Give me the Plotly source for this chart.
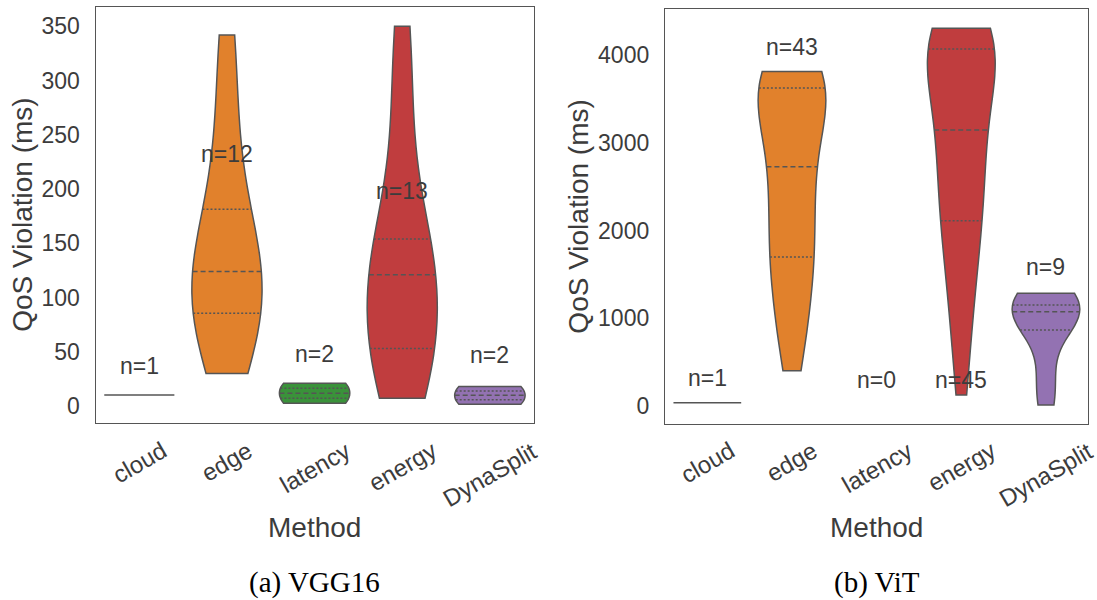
import numpy as np
import plotly.graph_objects as go

# ---------------- data ----------------
methods = ["cloud", "edge", "latency", "energy", "DynaSplit"]
colors = ["#3274a1", "#e1812c", "#3a923a", "#c03d3e", "#9372b2"]

# VGG16 QoS violation samples (ms)
vgg_cloud = [10]
vgg_edge = [30, 55, 78, 88, 100, 115, 133, 150, 170, 215, 275, 342]
vgg_latency = [2.5, 21]
vgg_energy = [7, 25, 40, 53, 75, 95, 121, 130, 140, 154, 215, 285, 350]
vgg_dynasplit = [1.5, 18]

# ViT QoS violation samples (ms)
vit_cloud = [38]
vit_edge = [403, 520, 700, 850, 1000, 1120, 1250, 1380, 1480, 1580, 1660,
            1736,
            1820, 1920, 2020, 2120, 2220, 2330, 2440, 2550, 2650,
            2727,
            2820, 2920, 3020, 3120, 3220, 3320, 3420, 3500, 3560,
            3600, 3648,
            3670, 3690, 3705, 3720, 3735, 3750, 3765, 3780, 3795, 3810]
vit_latency = []
vit_energy = [125, 420, 700, 950, 1150, 1320, 1480, 1620, 1760, 1900, 2010,
              2112,
              2200, 2300, 2400, 2500, 2600, 2700, 2800, 2900, 2990, 3070,
              3145,
              3250, 3350, 3450, 3550, 3650, 3750, 3850, 3930, 3990, 4030,
              4068,
              4100, 4130, 4150, 4170, 4190, 4210, 4230, 4250, 4270, 4290, 4304]
vit_dynasplit = [11, 350, 866, 990, 1075, 1115, 1151, 1225, 1284]

vgg_series = [vgg_cloud, vgg_edge, vgg_latency, vgg_energy, vgg_dynasplit]
vit_series = [vit_cloud, vit_edge, vit_latency, vit_energy, vit_dynasplit]

# "n=" label heights (ms)
vgg_label_y = [37, 232, 48, 198, 47]
vit_label_y = [315, 4095, 296, 296, 1588]

vgg_ticks = [0, 50, 100, 150, 200, 250, 300, 350]
vit_ticks = [0, 1000, 2000, 3000, 4000]

captions = ["(a) VGG16", "(b) ViT"]

# ---------------- style ----------------
W, H = 1097, 600
TXT = "#3c3c3c"
EDGE = "#555555"
FONT = "Liberation Sans, Arial, sans-serif"
VW = 0.8


def kde(vals, pts, bw):
    v = np.asarray(vals, float)[:, None]
    return np.exp(-0.5 * ((np.asarray(pts, float)[None, :] - v) / bw) ** 2).sum(0)


fig = go.Figure()

panels = [
    dict(series=vgg_series, labels=vgg_label_y, xa="x", ya="y", tag="a"),
    dict(series=vit_series, labels=vit_label_y, xa="x2", ya="y2", tag="b"),
]

annotations = []
for p in panels:
    for i, vals in enumerate(p["series"]):
        n = len(vals)
        if n == 1:
            fig.add_trace(go.Box(
                x=[i], y=vals, width=VW, boxpoints=False,
                line=dict(color=EDGE, width=1.5), fillcolor="rgba(0,0,0,0)",
                xaxis=p["xa"], yaxis=p["ya"], showlegend=False, hoverinfo="skip"))
        elif n >= 2:
            arr = np.asarray(vals, float)
            bw = arr.std(ddof=1) * n ** (-0.2)
            lo, hi = arr.min(), arr.max()
            steps = int(np.ceil((hi - lo) / (bw / 3)))
            grid = np.linspace(lo, hi, steps + 1)
            dmax = kde(arr, grid, bw).max()
            fig.add_trace(go.Violin(
                x=[i] * n, y=vals, width=VW, bandwidth=bw, spanmode="hard",
                scalemode="width", scalegroup=f"{p['tag']}{i}",
                points=False, box_visible=False, meanline_visible=False,
                fillcolor=colors[i], opacity=1,
                line=dict(color=EDGE, width=1.5),
                xaxis=p["xa"], yaxis=p["ya"], showlegend=False, hoverinfo="skip"))
            qs = np.percentile(arr, [25, 50, 75])
            for q, dash in zip(qs, ["2px,2px", "5px,3px", "2px,2px"]):
                hw = VW / 2 * kde(arr, [q], bw)[0] / dmax
                fig.add_trace(go.Scatter(
                    x=[i - hw, i + hw], y=[q, q], mode="lines",
                    line=dict(color=EDGE, width=1.5, dash=dash),
                    xaxis=p["xa"], yaxis=p["ya"], showlegend=False, hoverinfo="skip"))
        annotations.append(dict(
            x=i, y=p["labels"][i], xref=p["xa"], yref=p["ya"], text=f"n={n}",
            showarrow=False, xanchor="center", yanchor="middle",
            font=dict(size=23, color=TXT, family=FONT)))
        annotations.append(dict(
            x=i, y=1 - 434 / H, xref=p["xa"], yref="paper", text=methods[i],
            showarrow=False, xanchor="center", yanchor="top", textangle=-30,
            font=dict(size=24, color=TXT, family=FONT)))

# axes geometry (pixels)
left_px = (95.5, 533.7, 7.3, 423.3)
right_px = (665.0, 1088.3, 9.3, 424.0)


def dom(px):
    x0, x1, y0, y1 = px
    return [x0 / W, x1 / W], [1 - y1 / H, 1 - y0 / H]


lxd, lyd = dom(left_px)
rxd, ryd = dom(right_px)

axis_common = dict(showline=True, mirror=True, linecolor=EDGE, linewidth=1.3,
                   showgrid=False, zeroline=False)
xcommon = dict(axis_common, range=[-0.5, 4.5], showticklabels=False, ticks="")
ycommon = dict(axis_common, ticks="", ticklabelstandoff=10,
               tickfont=dict(size=23, color=TXT, family=FONT))

fig.update_layout(
    width=W, height=H, margin=dict(l=0, r=0, t=0, b=0),
    paper_bgcolor="white", plot_bgcolor="white",
    violinmode="overlay", boxmode="overlay",
    xaxis=dict(xcommon, domain=lxd, anchor="y"),
    yaxis=dict(ycommon, domain=lyd, anchor="x", range=[-16, 367.5],
               tickvals=vgg_ticks),
    xaxis2=dict(xcommon, domain=rxd, anchor="y2"),
    yaxis2=dict(ycommon, domain=ryd, anchor="x2", range=[-204, 4519],
                tickvals=vit_ticks),
)

for (xd, yd), xc_title, cap in [((lxd, lyd), 22.5, captions[0]),
                                ((rxd, ryd), 579, captions[1])]:
    cx = (xd[0] + xd[1]) / 2
    annotations.append(dict(
        x=xc_title / W, y=(yd[0] + yd[1]) / 2, xref="paper", yref="paper",
        text="QoS Violation (ms)", textangle=-90, showarrow=False,
        xanchor="center", yanchor="middle",
        font=dict(size=28, color=TXT, family=FONT)))
    annotations.append(dict(
        x=cx, y=1 - 527 / H, xref="paper", yref="paper", text="Method",
        showarrow=False, xanchor="center", yanchor="middle",
        font=dict(size=28, color=TXT, family=FONT)))
    annotations.append(dict(
        x=cx, y=1 - 582 / H, xref="paper", yref="paper", text=cap,
        showarrow=False, xanchor="center", yanchor="middle",
        font=dict(size=29, color="#000000", family="Liberation Serif, serif")))

fig.update_layout(annotations=annotations)
fig.write_html("out.html")
